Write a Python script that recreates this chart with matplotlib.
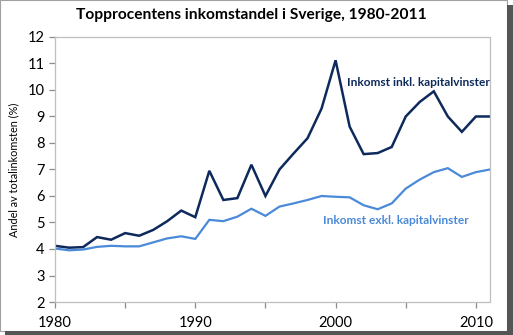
import matplotlib
matplotlib.use("Agg")
from matplotlib import pyplot as plt
from matplotlib.patches import Rectangle

years = list(range(1980, 2012))

# topprocentens andel, inkl. kapitalvinster
inkl = [4.12, 4.05, 4.07, 4.45, 4.35, 4.60, 4.50, 4.72, 5.05, 5.45,
        5.20, 6.95, 5.85, 5.92, 7.18, 6.00, 7.00, 7.60, 8.18, 9.30,
        11.12, 8.62, 7.58, 7.62, 7.85, 9.00, 9.55, 9.95, 9.00, 8.42,
        9.00, 9.00]

# exkl. kapitalvinster
exkl = [4.02, 3.95, 3.98, 4.08, 4.12, 4.10, 4.10, 4.25, 4.40, 4.48,
        4.38, 5.10, 5.05, 5.22, 5.52, 5.25, 5.60, 5.72, 5.85, 6.00,
        5.97, 5.95, 5.65, 5.50, 5.72, 6.28, 6.62, 6.90, 7.05, 6.72,
        6.90, 7.00]

yticks = list(range(2, 13))
xlabels = [1980, 1990, 2000, 2010]

dark = "#0e2a5c"
light = "#4a8ad8"
plt.rcParams['font.family'] = ['Lato', 'DejaVu Sans']

fig = plt.figure(figsize=(5.13, 3.35), dpi=100)
ax = fig.add_axes([0.1072, 0.0985, 0.955 - 0.1072, 0.8896 - 0.0985])

ax.plot(years, inkl, color=dark, lw=1.8, solid_joinstyle="miter")
ax.plot(years, exkl, color=light, lw=1.6, solid_joinstyle="miter")

ax.set_xlim(1980, 2011)
ax.set_ylim(2, 12)
ax.set_yticks(yticks)
ax.set_xticks(range(1980, 2012, 5))
ax.set_xticklabels([str(y) if y in xlabels else "" for y in range(1980, 2012, 5)])

for s in ax.spines.values():
    s.set_color("#bfbfbf")
    s.set_linewidth(0.9)
ax.tick_params(colors="#8c8c8c", labelcolor="black", labelsize=10.5, length=4, width=0.9)
ax.tick_params(axis="x", pad=6)

ax.set_ylabel("Andel av totalinkomsten (%)", fontsize=7.8, labelpad=6)
fig.suptitle("Topprocentens inkomstandel i Sverige, 1980-2011", fontsize=11.2,
             fontweight="bold", x=0.49, y=0.975)

ax.text(2000.8, 10.3, "Inkomst inkl. kapitalvinster", color=dark, fontsize=8.6,
        fontweight="bold", va="center")
ax.text(1999.1, 5.06, "Inkomst exkl. kapitalvinster", color=light, fontsize=8.6,
        fontweight="bold", va="center")

# ram med skugga
fig.patches.append(Rectangle((0.0, 0.012), 0.988, 0.988, transform=fig.transFigure,
                             fill=False, edgecolor="#a0a0a0", lw=0.8))
fig.patches.append(Rectangle((0.988, 0.0), 0.012, 0.985, transform=fig.transFigure,
                             color="#555555", lw=0))
fig.patches.append(Rectangle((0.01, 0.0), 0.99, 0.012, transform=fig.transFigure,
                             color="#555555", lw=0))

fig.savefig("out.png", dpi=100)
